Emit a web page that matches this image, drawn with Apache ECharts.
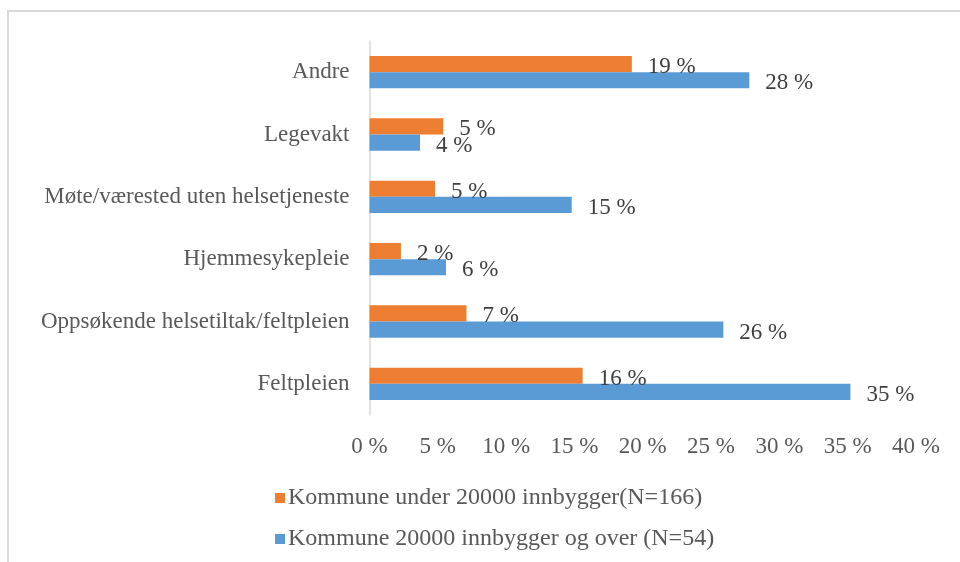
<!DOCTYPE html>
<html>
<head>
<meta charset="utf-8">
<script src="https://cdn.jsdelivr.net/npm/echarts@6/dist/echarts.min.js"></script>
<style>
  html, body { margin: 0; padding: 0; background: #fff; }
  #chart { width: 960px; height: 562px; }
</style>
</head>
<body>
<div id="chart"></div>
<script>
// categories from top to bottom
const categories = [
    'Andre',
    'Legevakt',
    'Møte/værested uten helsetjeneste',
    'Hjemmesykepleie',
    'Oppsøkende helsetiltak/feltpleien',
    'Feltpleien'
];
const seriesNames = [
    'Kommune under 20000 innbygger(N=166)',
    'Kommune 20000 innbygger og over (N=54)'
];
// percent
const under20000 = [19.2, 5.4, 4.8, 2.3, 7.1, 15.6];
const over20000 = [27.8, 3.7, 14.8, 5.6, 25.9, 35.2];
const xTicks = { min: 0, max: 40, interval: 5 };

const colors = ['#ED7D31', '#5B9BD5'];
const fontFamily = "'Liberation Serif', 'Times New Roman', serif";

const chart = echarts.init(document.getElementById('chart'));

function barSeries(name, data, color) {
    return {
        name: name,
        type: 'bar',
        data: data,
        barGap: '0%',
        barCategoryGap: '48%',
        itemStyle: { color: color },
        label: {
            show: true,
            position: 'right',
            distance: 16,
            offset: [0, 3],
            color: '#404040',
            fontFamily: fontFamily,
            fontSize: 23,
            formatter: p => Math.round(p.value) + ' %'
        }
    };
}

const option = {
    animation: false,
    color: colors,
    graphic: [{
        type: 'rect',
        shape: { x: 8, y: 11, width: 1000, height: 600 },
        style: { fill: 'none', stroke: '#d9d9d9', lineWidth: 2 },
        silent: true
    }],
    grid: {
        left: 369.5,
        right: 44,
        top: 41,
        bottom: 147
    },
    xAxis: {
        type: 'value',
        min: xTicks.min,
        max: xTicks.max,
        interval: xTicks.interval,
        axisLine: { show: false },
        axisTick: { show: false },
        splitLine: { show: false },
        axisLabel: {
            margin: 20,
            color: '#595959',
            fontFamily: fontFamily,
            fontSize: 23,
            formatter: '{value} %'
        }
    },
    yAxis: {
        type: 'category',
        inverse: true,
        data: categories,
        axisLine: { show: true, lineStyle: { color: '#d9d9d9', width: 1.5 } },
        axisTick: { show: false },
        axisLabel: {
            margin: 20,
            color: '#595959',
            fontFamily: fontFamily,
            fontSize: 23,
            padding: [3, 0, 0, 0]
        }
    },
    legend: {
        orient: 'vertical',
        left: 270,
        top: 481,
        itemWidth: 10,
        itemHeight: 10,
        itemGap: 17,
        icon: 'rect',
        data: seriesNames,
        textStyle: {
            color: '#595959',
            fontFamily: fontFamily,
            fontSize: 24,
            padding: [0, 0, 0, -2]
        }
    },
    series: [
        barSeries(seriesNames[0], under20000, colors[0]),
        barSeries(seriesNames[1], over20000, colors[1])
    ]
};

chart.setOption(option);
</script>
</body>
</html>
